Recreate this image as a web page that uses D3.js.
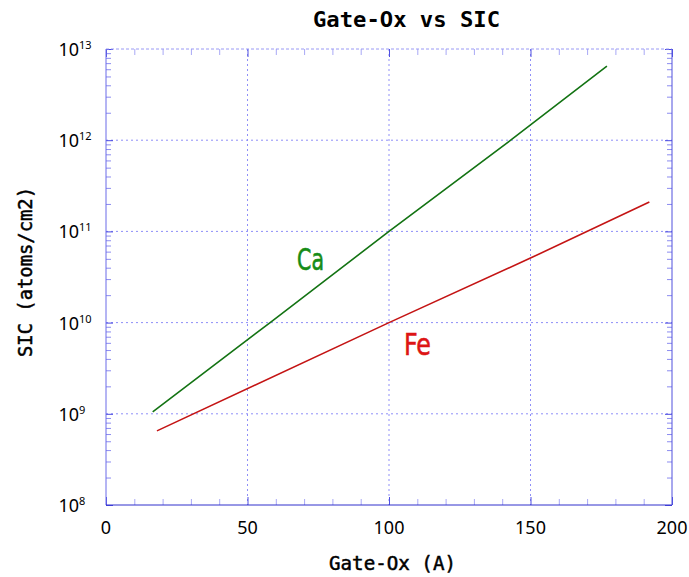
<!DOCTYPE html>
<html lang="en">
<head>
    <meta charset="UTF-8">
    <title>gate-ox-vs-sic</title>
    <script src="https://cdnjs.cloudflare.com/ajax/libs/d3/7.8.5/d3.min.js"></script>
    <style>
        body { margin: 0; background: #fff; }
        .grid line { stroke: #8f8ff8; stroke-dasharray: 2,3; }
        .tick-label { font-family: "Noto Sans", "Open Sans", sans-serif; fill: #000; }
        .mono { font-family: "DejaVu Sans Mono", monospace; fill: #000; }
    </style>
</head>
<body>
<svg class="graph"></svg>
<script>
    // data
    var caX = [16.5, 58, 100, 143, 177];
    var caY = [1.05e9, 1e10, 1e11, 1e12, 6.5e12];
    var feX = [18, 100, 150, 192];
    var feY = [6.5e8, 1e10, 5.1e10, 2.1e11];
    var xTicks = [0, 50, 100, 150, 200];
    var yDecades = [8, 9, 10, 11, 12, 13];
    var seriesNames = ["Ca", "Fe"];

    var width = 689, height = 577;
    // plot box (note: "top" is reserved on window, so use pl/pr/pt/pb)
    var pl = 106, pr = 672, pt = 49, pb = 505;

    var svg = d3.select('.graph').attr('width', width).attr('height', height);

    var x = d3.scaleLinear().domain([0, 200]).range([pl, pr]);
    var y = d3.scaleLog().domain([1e8, 1e13]).range([pb, pt]);

    // grid
    var grid = svg.append('g').attr('class', 'grid');
    grid.selectAll('.gx').data(xTicks.slice(1, -1)).enter().append('line')
        .attr('x1', function (d) { return x(d); }).attr('x2', function (d) { return x(d); })
        .attr('y1', pt).attr('y2', pb);
    grid.selectAll('.gy').data(yDecades.slice(1, -1)).enter().append('line')
        .attr('y1', function (d) { return y(Math.pow(10, d)); }).attr('y2', function (d) { return y(Math.pow(10, d)); })
        .attr('x1', pl).attr('x2', pr);

    // minor values
    var xMinor = d3.range(0, 201, 10).filter(function (d) { return xTicks.indexOf(d) < 0; });
    var yMinor = [];
    yDecades.slice(0, -1).forEach(function (e) {
        for (var k = 2; k < 10; k++) yMinor.push(k * Math.pow(10, e));
    });
    var yMajor = yDecades.map(function (e) { return Math.pow(10, e); });

    function tickGroup(axis, tx, ty, color) {
        var g = svg.append('g').attr('transform', 'translate(' + tx + ',' + ty + ')').call(axis);
        g.select('.domain').remove();
        g.selectAll('.tick line').attr('stroke', color);
        g.selectAll('.tick text').remove();
        return g;
    }

    // minor ticks (inward)
    tickGroup(d3.axisBottom(x).tickValues(xMinor).tickSize(-6), 0, pb, '#a8a8f5');
    tickGroup(d3.axisTop(x).tickValues(xMinor).tickSize(-6), 0, pt, '#a8a8f5');
    tickGroup(d3.axisLeft(y).tickValues(yMinor).tickSize(-5), pl, 0, '#8c8cf0');
    tickGroup(d3.axisRight(y).tickValues(yMinor).tickSize(-5), pr, 0, '#8c8cf0');
    // major ticks
    tickGroup(d3.axisBottom(x).tickValues(xTicks).tickSize(-8), 0, pb, '#5050e0');
    tickGroup(d3.axisTop(x).tickValues(xTicks).tickSize(-8), 0, pt, '#5050e0');
    tickGroup(d3.axisLeft(y).tickValues(yMajor).tickSize(-7), pl, 0, '#4848e0');
    tickGroup(d3.axisRight(y).tickValues(yMajor).tickSize(-7), pr, 0, '#4848e0');

    // frame
    svg.append('line').attr('x1', pl).attr('x2', pr).attr('y1', pt).attr('y2', pt)
        .attr('stroke', '#9a9af5').attr('stroke-dasharray', '3,2');
    svg.append('line').attr('x1', pl).attr('x2', pl).attr('y1', pt).attr('y2', pb)
        .attr('stroke', '#6a6ae8');
    svg.append('line').attr('x1', pl).attr('x2', pr).attr('y1', pb).attr('y2', pb)
        .attr('stroke', '#3030cc');
    svg.append('line').attr('x1', pr).attr('x2', pr).attr('y1', pt).attr('y2', pb)
        .attr('stroke', '#5050dd');

    // x tick labels
    svg.append('g').selectAll('text').data(xTicks).enter().append('text')
        .attr('class', 'tick-label')
        .attr('x', function (d) { return x(d); })
        .attr('y', 534)
        .attr('text-anchor', 'middle')
        .style('font-size', '18px')
        .text(function (d) { return d; });

    // y tick labels: 10^n
    var yl = svg.append('g').selectAll('g').data(yDecades).enter().append('g');
    yl.append('text').attr('class', 'tick-label')
        .attr('x', 79)
        .attr('y', function (d) { return y(Math.pow(10, d)) + 7; })
        .attr('text-anchor', 'end')
        .style('font-size', '18px')
        .text('10');
    yl.append('text').attr('class', 'tick-label')
        .attr('x', 79)
        .attr('y', function (d) { return y(Math.pow(10, d)); })
        .style('font-size', '11px')
        .text(function (d) { return d; });

    // lines
    var line = d3.line()
        .x(function (d) { return x(d[0]); })
        .y(function (d) { return y(d[1]); });
    var caData = caX.map(function (v, i) { return [v, caY[i]]; });
    var feData = feX.map(function (v, i) { return [v, feY[i]]; });

    svg.append('path').datum(caData).attr('d', line)
        .attr('fill', 'none').attr('stroke', '#137313').attr('stroke-width', 1.6);
    svg.append('path').datum(feData).attr('d', line)
        .attr('fill', 'none').attr('stroke', '#c41414').attr('stroke-width', 1.6);

    // series labels
    svg.append('text').attr('x', 297).attr('y', 270)
        .attr('textLength', 27).attr('lengthAdjust', 'spacingAndGlyphs')
        .style('font-family', '"DejaVu Sans", sans-serif').style('font-size', '30px')
        .attr('fill', '#168c16').attr('stroke', '#168c16').attr('stroke-width', 0.6)
        .text(seriesNames[0]);
    svg.append('text').attr('x', 404).attr('y', 355)
        .attr('textLength', 27).attr('lengthAdjust', 'spacingAndGlyphs')
        .style('font-family', '"DejaVu Sans", sans-serif').style('font-size', '30px')
        .attr('fill', '#dd1414').attr('stroke', '#dd1414').attr('stroke-width', 0.6)
        .text(seriesNames[1]);

    // title and axis labels
    svg.append('text').attr('class', 'mono').attr('x', 313).attr('y', 27)
        .attr('textLength', 187).attr('lengthAdjust', 'spacingAndGlyphs')
        .style('font-size', '22px').style('font-weight', 'bold')
        .text('Gate-Ox vs SIC');
    svg.append('text').attr('class', 'mono').attr('x', 329).attr('y', 570)
        .attr('textLength', 127).attr('lengthAdjust', 'spacingAndGlyphs')
        .attr('stroke', '#000').attr('stroke-width', 0.5)
        .style('font-size', '20px')
        .text('Gate-Ox (A)');
    svg.append('text').attr('class', 'mono')
        .attr('transform', 'translate(32,357) rotate(-90)')
        .attr('textLength', 170).attr('lengthAdjust', 'spacingAndGlyphs')
        .attr('stroke', '#000').attr('stroke-width', 0.5)
        .style('font-size', '20px')
        .text('SIC (atoms/cm2)');
</script>
</body>
</html>
